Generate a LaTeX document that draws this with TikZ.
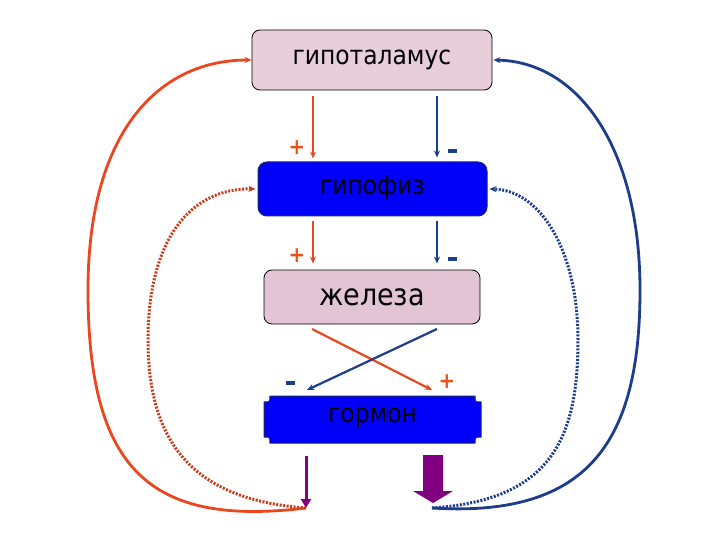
\documentclass[tikz,border=0pt]{standalone}
\usepackage{fontspec}
\setmainfont{DejaVu Sans Condensed}
\usetikzlibrary{arrows.meta,calc}
\definecolor{pinkfill}{RGB}{232,206,219}
\definecolor{pinkfilltwo}{RGB}{226,196,212}
\definecolor{redline}{RGB}{236,70,30}
\definecolor{orangesign}{RGB}{232,84,26}
\definecolor{navy}{RGB}{28,60,140}
\definecolor{purp}{RGB}{128,0,128}
\definecolor{brightblue}{RGB}{0,0,250}
\tikzset{
  pinkbox/.style={draw=black, line width=0.8pt, fill=pinkfill, rounded corners=8pt, inner sep=0pt},
  bluebox/.style={draw=navy!70!black, line width=1pt, fill=brightblue, rounded corners=9pt, inner sep=0pt},
  tip/.style={-{Stealth[length=7pt,width=6pt]}},
  redarr/.style={tip, draw=redline, line width=2.2pt},
  bluearr/.style={tip, draw=navy, line width=2.2pt},
  redloop/.style={tip, draw=redline, line width=2.8pt},
  blueloop/.style={tip, draw=navy, line width=2.8pt},
  reddot/.style={tip, draw=redline!85!black, line width=3pt, dash pattern=on 2pt off 1.5pt},
  bluedot/.style={tip, draw=navy, line width=3pt, dash pattern=on 2pt off 1.5pt},
  plussign/.style={text=orangesign, font=\fontsize{22}{22}\selectfont\bfseries, inner sep=0pt},
  minussign/.style={fill=navy, minimum width=9pt, minimum height=3.4pt, inner sep=0pt},
  boxtext/.style={font=\fontsize{26}{30}\selectfont},
  bigtext/.style={font=\fontsize{30}{34}\selectfont}
}
\begin{document}
\begin{tikzpicture}[x=1pt,y=-1pt]
\useasboundingbox (0,0) rectangle (720,540);
% boxes
\node[pinkbox, boxtext, minimum width=240pt, minimum height=60pt] (hyp) at (372,60) {гипоталамус};
\node[bluebox, boxtext, minimum width=229pt, minimum height=54pt, text depth=8pt] (hypo) at (372.5,189) {гипофиз};
\node[pinkbox, bigtext, fill=pinkfilltwo, minimum width=216pt, minimum height=54pt] (zhel) at (372,297) {железа};
% plaque shape for hormone
\fill[brightblue, draw=navy!70!black, line width=1pt]
  (270,396) -- (475,396) .. controls (475,402) .. (481,402) -- (481,437) .. controls (475,437) .. (475,443)
  -- (270,443) .. controls (270,437) .. (264,437) -- (264,402) .. controls (270,402) .. (270,396) -- cycle;
\node[boxtext, minimum width=217pt, minimum height=47pt, inner sep=0pt, text depth=8pt] (gorm) at (372.5,419.5) {гормон};
% helper columns
\coordinate (rx) at (313,0);
\coordinate (bx) at (437,0);
% vertical arrows
\draw[redarr] ([yshift=-6pt]hyp.south -| rx) -- ([yshift=3pt]hypo.north -| rx);
\draw[bluearr] ([yshift=-6pt]hyp.south -| bx) -- ([yshift=4pt]hypo.north -| bx);
\draw[redarr] ([yshift=-5pt]hypo.south -| rx) -- ([yshift=6pt]zhel.north -| rx);
\draw[bluearr] ([yshift=-5pt]hypo.south -| bx) -- ([yshift=6pt]zhel.north -| bx);
\node[plussign] (p1) at (297,148) {+};
\node[minussign] (m1) at (452,151) {};
\node[plussign] (p2) at (297,256) {+};
\node[minussign] (m2) at (452,259) {};
% cross arrows
\coordinate (cr1) at (312,329);
\coordinate (cr2) at (432,390);
\coordinate (cb1) at (437,329);
\coordinate (cb2) at (307,390);
\draw[redarr] (cr1) -- (cr2);
\draw[bluearr] (cb1) -- (cb2);
\node[minussign] (m3) at (290,383) {};
\node[plussign] (p3) at (447,382) {+};
% output arrows
\coordinate (lo) at (306,508);
\coordinate (ro) at (432,508);
\draw[purp, line width=3pt, -{Triangle[length=9pt,width=10pt]}] (306,456) -- (lo);
\fill[purp] (423,455) -- (443,455) -- (443,491) -- (453,491) -- (433,503) -- (413,491) -- (423,491) -- cycle;
% feedback loops
\draw[redloop] (lo) .. controls (150,527) and (88,470) .. (88,290) .. controls (88,130) and (160,60) .. (hyp.west);
\draw[reddot] (lo) .. controls (200,500) and (148,450) .. (148,340) .. controls (148,240) and (190,188) .. ([xshift=-2pt]hypo.west);
\draw[blueloop] (ro) .. controls (590,518) and (640,440) .. (640,290) .. controls (640,150) and (580,62) .. ([xshift=1pt]hyp.east);
\draw[bluedot] (ro) .. controls (550,500) and (578,440) .. (578,340) .. controls (578,250) and (540,190) .. ([xshift=2pt]hypo.east);
\end{tikzpicture}
\end{document}
